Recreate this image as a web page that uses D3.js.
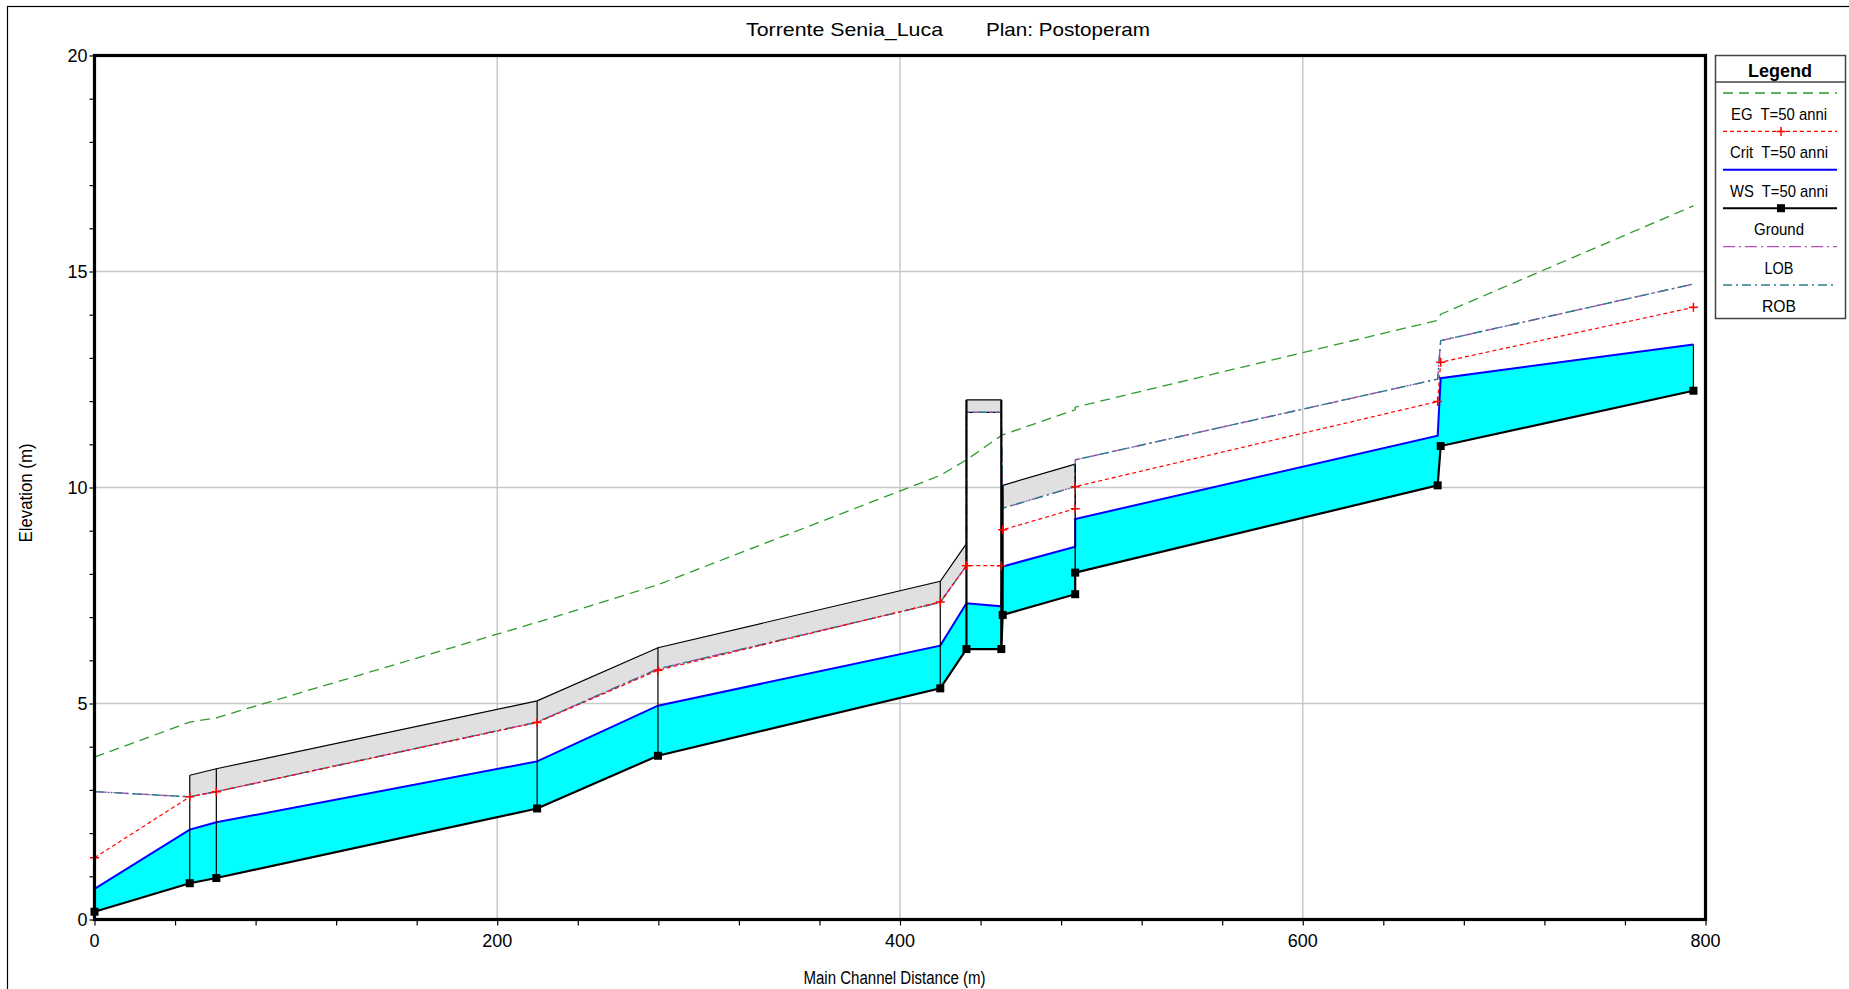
<!DOCTYPE html>
<html>
<head>
<meta charset="utf-8">
<script src="https://cdn.jsdelivr.net/npm/d3@7"></script>
<style>
  html, body { margin: 0; padding: 0; background: #fff; }
  svg text { font-family: "Liberation Sans Narrow", "Arial Narrow", "Liberation Sans", Arial, sans-serif; fill: #000; white-space: pre; }
</style>
</head>
<body>
<div id="chart"></div>
<script>
"use strict";
// profile stations (main channel distance, m) - some repeated where the profile steps
var stations = [0, 47.3, 60.5, 219.8, 279.8, 420, 433, 450.3, 451, 487, 487, 667, 668.5, 794];
var groundElev = [0.18, 0.84, 0.96, 2.57, 3.79, 5.35, 6.26, 6.26, 7.05, 7.53, 8.03, 10.05, 10.96, 12.24];
var wsElev = [0.71, 2.08, 2.25, 3.66, 4.95, 6.34, 7.32, 7.25, 8.17, 8.63, 9.27, 11.20, 12.53, 13.31];
var critElev = [1.43, 2.84, 2.96, 4.56, 5.77, 7.35, 8.19, 8.19, 9.02, 9.51, 10.02, 11.99, 12.90, 14.17];
var egElev = [3.76, 4.57, 4.67, 6.88, 7.75, 10.28, 10.64, 11.20, 11.22, 11.80, 11.86, 13.87, 14.01, 16.52];

// bank stations (LOB / ROB overlap)
var bankStations = [0, 47.3, 60.5, 219.8, 279.8, 420, 433, 433, 450.3, 451, 487, 487, 667, 668.5, 794];
var lobElev = [2.96, 2.84, 2.96, 4.57, 5.80, 7.34, 8.19, 11.74, 11.74, 9.52, 10.02, 10.64, 12.51, 13.40, 14.71];
var robElev = [2.96, 2.84, 2.96, 4.57, 5.80, 7.34, 8.19, 11.74, 11.74, 9.52, 10.02, 10.64, 12.51, 13.40, 14.71];

// covered reaches / bridge deck
var lidAStations = [47.3, 60.5, 219.8, 279.8, 420, 433];
var lidATop = [3.34, 3.49, 5.06, 6.29, 7.83, 8.70];
var lidALow = [2.84, 2.96, 4.57, 5.80, 7.34, 8.19];
var deckStations = [433, 450.3];
var deckTop = [12.03, 12.03];
var deckLow = [11.74, 11.74];
var lidCStations = [451, 487];
var lidCTop = [10.05, 10.54];
var lidCLow = [9.52, 10.02];

var xMajor = [0, 200, 400, 600, 800];
var yMajor = [0, 5, 10, 15, 20];

var legendLabels = ["EG  T=50 anni", "Crit  T=50 anni", "WS  T=50 anni", "Ground", "LOB", "ROB"];

(function () {
var W = 1849, H = 989;
var pLeft = 94.5, pRight = 1705.5, pTop = 55.5, pBottom = 919.5;

var svg = d3.select("#chart").append("svg")
    .attr("width", W)
    .attr("height", H);

// outer frame
svg.append("rect")
    .attr("x", 7.5).attr("y", 6.5)
    .attr("width", W + 20).attr("height", H + 20)
    .attr("fill", "none").attr("stroke", "#000").attr("stroke-width", 1.2);

var x = d3.scaleLinear().domain([0, 800]).range([pLeft, pRight]);
var y = d3.scaleLinear().domain([0, 20]).range([pBottom, pTop]);

function pairs(xs, ys) {
    return xs.map(function (d, i) { return [d, ys[i]]; });
}
function elevAt(xs, ys, s) {
    return ys[xs.indexOf(s)];
}

// grid
var grid = svg.append("g");
grid.selectAll("line.gx")
    .data(xMajor.slice(1, -1)).enter()
    .append("line")
    .attr("x1", function (d) { return x(d); }).attr("x2", function (d) { return x(d); })
    .attr("y1", y(0)).attr("y2", y(20))
    .attr("stroke", "#c8c8c8").attr("stroke-width", 1.5);
grid.selectAll("line.gy")
    .data(yMajor.slice(1, -1)).enter()
    .append("line")
    .attr("x1", x(0)).attr("x2", x(800))
    .attr("y1", function (d) { return y(d); }).attr("y2", function (d) { return y(d); })
    .attr("stroke", "#c8c8c8").attr("stroke-width", 1.5);

var line = d3.line().x(function (d) { return x(d[0]); }).y(function (d) { return y(d[1]); });

// water between ground and WS
var area = d3.area()
    .x(function (d) { return x(d[0]); })
    .y0(function (d) { return y(d[1]); })
    .y1(function (d) { return y(d[2]); });
svg.append("path")
    .datum(stations.map(function (s, i) { return [s, groundElev[i], wsElev[i]]; }))
    .attr("d", area)
    .attr("fill", "#00ffff");

// gray lids and deck
function drawLid(xs, tops, lows, edge) {
    var d = xs.map(function (s, i) { return [s, lows[i], tops[i]]; });
    svg.append("path").datum(d).attr("d", area).attr("fill", "#e0e0e0");
    svg.append("path").datum(pairs(xs, tops)).attr("d", line)
        .attr("fill", "none").attr("stroke", "#000").attr("stroke-width", 1.2);
    if (edge) {
        svg.append("path").datum(pairs(xs, lows)).attr("d", line)
            .attr("fill", "none").attr("stroke", "#000").attr("stroke-width", 1.2);
    }
}
drawLid(lidAStations, lidATop, lidALow, false);
drawLid(deckStations, deckTop, deckLow, true);
drawLid(lidCStations, lidCTop, lidCLow, false);

// EG
svg.append("path").datum(pairs(stations, egElev)).attr("d", line)
    .attr("fill", "none").attr("stroke", "#2e9b2e").attr("stroke-width", 1.3)
    .attr("stroke-dasharray", "10,6");

// banks
svg.append("path").datum(pairs(bankStations, lobElev)).attr("d", line)
    .attr("fill", "none").attr("stroke", "#b050b8").attr("stroke-width", 1.4)
    .attr("stroke-dasharray", "12,4,2,4");
svg.append("path").datum(pairs(bankStations, robElev)).attr("d", line)
    .attr("fill", "none").attr("stroke", "#2a7f8a").attr("stroke-width", 1.4)
    .attr("stroke-dasharray", "9,4,2,4");

// crit
svg.append("path").datum(pairs(stations, critElev)).attr("d", line)
    .attr("fill", "none").attr("stroke", "#ff0000").attr("stroke-width", 1.2)
    .attr("stroke-dasharray", "4,3");

// WS
svg.append("path").datum(pairs(stations, wsElev)).attr("d", line)
    .attr("fill", "none").attr("stroke", "#0000ff").attr("stroke-width", 2);

// section lines: ground up to the lid top
var cuts = [];
lidAStations.slice(0, -1).forEach(function (s, i) {
    cuts.push({ s: s, lo: elevAt(stations, groundElev, s), hi: lidATop[i], w: 1.2 });
});
cuts.push({ s: lidCStations[1], lo: elevAt(stations, groundElev, lidCStations[1]), hi: lidCTop[1], w: 1.4 });
cuts.push({ s: lidCStations[0], lo: elevAt(stations, groundElev, lidCStations[0]), hi: lidCTop[0], w: 2 });
deckStations.forEach(function (s, i) {
    cuts.push({ s: s, lo: elevAt(stations, groundElev, s), hi: deckTop[i], w: 2.2 });
});
var last = stations.length - 1;
cuts.push({ s: stations[last], lo: groundElev[last], hi: wsElev[last], w: 1.2 });
svg.selectAll("line.cut").data(cuts).enter()
    .append("line")
    .attr("x1", function (d) { return x(d.s); }).attr("x2", function (d) { return x(d.s); })
    .attr("y1", function (d) { return y(d.lo); }).attr("y2", function (d) { return y(d.hi); })
    .attr("stroke", "#000").attr("stroke-width", function (d) { return d.w; });

// ground
svg.append("path").datum(pairs(stations, groundElev)).attr("d", line)
    .attr("fill", "none").attr("stroke", "#000").attr("stroke-width", 2.2);

// markers
svg.selectAll("rect.gm").data(pairs(stations, groundElev)).enter()
    .append("rect")
    .attr("x", function (d) { return x(d[0]) - 4; })
    .attr("y", function (d) { return y(d[1]) - 4; })
    .attr("width", 8).attr("height", 8).attr("fill", "#000");
var plus = "M-4.5,0H4.5M0,-4.5V4.5";
svg.selectAll("path.cm").data(pairs(stations, critElev)).enter()
    .append("path")
    .attr("transform", function (d) { return "translate(" + x(d[0]) + "," + y(d[1]) + ")"; })
    .attr("d", plus).attr("stroke", "#ff0000").attr("stroke-width", 1.5);

// axes
var yAxis = svg.append("g").attr("transform", "translate(" + pLeft + ",0)");
yAxis.call(d3.axisLeft(y).tickValues(d3.range(0, 21, 1)).tickSize(5).tickFormat(""));
yAxis.select(".domain").remove();
yAxis.selectAll("line").attr("stroke", "#000").attr("stroke-width", 1.2);
svg.selectAll("text.yl").data(yMajor).enter()
    .append("text")
    .attr("x", pLeft - 7).attr("y", function (d) { return y(d) + 6.5; })
    .attr("text-anchor", "end").attr("font-size", 18)
    .text(function (d) { return d; });

var xAxis = svg.append("g").attr("transform", "translate(0," + pBottom + ")");
xAxis.call(d3.axisBottom(x).tickValues(d3.range(0, 801, 40)).tickSize(6).tickFormat(""));
xAxis.select(".domain").remove();
xAxis.selectAll("line").attr("stroke", "#000").attr("stroke-width", 1.2);
svg.selectAll("text.xl").data(xMajor).enter()
    .append("text")
    .attr("x", function (d) { return x(d); }).attr("y", pBottom + 27)
    .attr("text-anchor", "middle").attr("font-size", 18)
    .text(function (d) { return d; });

// plot frame
svg.append("rect")
    .attr("x", pLeft).attr("y", pTop)
    .attr("width", pRight - pLeft).attr("height", pBottom - pTop)
    .attr("fill", "none").attr("stroke", "#000").attr("stroke-width", 3.2);

// titles
svg.append("text").attr("x", 746).attr("y", 36).attr("font-size", 19)
    .attr("textLength", 197).attr("lengthAdjust", "spacingAndGlyphs")
    .text("Torrente Senia_Luca");
svg.append("text").attr("x", 986).attr("y", 36).attr("font-size", 19)
    .attr("textLength", 164).attr("lengthAdjust", "spacingAndGlyphs")
    .text("Plan: Postoperam");
svg.append("text").attr("x", 894.5).attr("y", 984).attr("font-size", 18)
    .attr("text-anchor", "middle")
    .attr("textLength", 182).attr("lengthAdjust", "spacingAndGlyphs")
    .text("Main Channel Distance (m)");
svg.append("text")
    .attr("transform", "translate(32,493) rotate(-90)")
    .attr("font-size", 18).attr("text-anchor", "middle")
    .attr("textLength", 99).attr("lengthAdjust", "spacingAndGlyphs")
    .text("Elevation (m)");

// legend
var lg = svg.append("g");
lg.append("rect").attr("x", 1715.5).attr("y", 55.5).attr("width", 130).attr("height", 263)
    .attr("fill", "#fff").attr("stroke", "#444").attr("stroke-width", 1.5);
lg.append("line").attr("x1", 1715.5).attr("x2", 1845.5).attr("y1", 82).attr("y2", 82)
    .attr("stroke", "#444").attr("stroke-width", 1.5);
lg.append("text").attr("x", 1780).attr("y", 77).attr("text-anchor", "middle")
    .attr("font-size", 18).attr("font-weight", "bold").text("Legend");

var legendStyles = [
    { stroke: "#2e9b2e", dash: "10,6", w: 1.3, mark: null },
    { stroke: "#ff0000", dash: "4,3", w: 1.2, mark: "plus" },
    { stroke: "#0000ff", dash: null, w: 2, mark: null },
    { stroke: "#000", dash: null, w: 2, mark: "square" },
    { stroke: "#b050b8", dash: "12,4,2,4", w: 1.4, mark: null },
    { stroke: "#2a7f8a", dash: "9,4,2,4", w: 1.4, mark: null }
];
var legendWidths = [96, 98, 98, 50, 29, 34];
legendLabels.forEach(function (lab, i) {
    var ly = 93 + i * 38.4;
    var st = legendStyles[i];
    lg.append("line").attr("x1", 1723).attr("x2", 1837).attr("y1", ly).attr("y2", ly)
        .attr("stroke", st.stroke).attr("stroke-width", st.w)
        .attr("stroke-dasharray", st.dash);
    if (st.mark === "plus") {
        lg.append("path").attr("transform", "translate(1781," + ly + ")")
            .attr("d", plus).attr("stroke", "#ff0000").attr("stroke-width", 1.5);
    }
    if (st.mark === "square") {
        lg.append("rect").attr("x", 1777).attr("y", ly - 4).attr("width", 8).attr("height", 8).attr("fill", "#000");
    }
    lg.append("text").attr("x", 1779).attr("y", ly + 27).attr("text-anchor", "middle")
        .attr("font-size", 17)
        .attr("textLength", legendWidths[i]).attr("lengthAdjust", "spacingAndGlyphs")
        .text(lab);
});
})();
</script>
</body>
</html>
